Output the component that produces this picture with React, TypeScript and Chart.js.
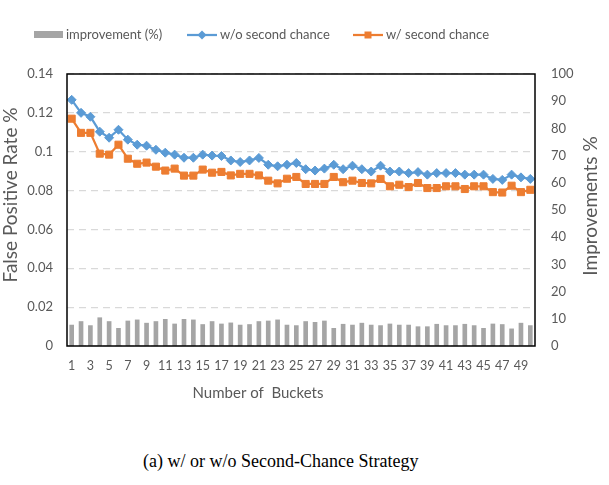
import React, { useEffect, useRef } from 'react';
import { Chart, registerables } from 'chart.js';

Chart.register(...registerables);

// Number of buckets (category axis)
const buckets = [
  1, 2, 3, 4, 5, 6, 7, 8, 9, 10, 11, 12, 13, 14, 15, 16, 17, 18, 19, 20, 21, 22, 23, 24, 25,
  26, 27, 28, 29, 30, 31, 32, 33, 34, 35, 36, 37, 38, 39, 40, 41, 42, 43, 44, 45, 46, 47, 48, 49, 50,
];

// False positive rate without the second-chance strategy
const fprWithout = [
  0.1267, 0.12, 0.118, 0.1103, 0.1072, 0.1113, 0.1062, 0.1036, 0.1031, 0.101,
  0.0995, 0.0985, 0.0969, 0.0969, 0.0985, 0.098, 0.0978, 0.0955, 0.0947, 0.0955,
  0.0968, 0.0933, 0.0925, 0.0933, 0.0942, 0.091, 0.0903, 0.0913, 0.0933, 0.091,
  0.0928, 0.091, 0.0898, 0.0928, 0.0898, 0.0898, 0.089, 0.0895, 0.0882, 0.089,
  0.089, 0.089, 0.0882, 0.0882, 0.0882, 0.086, 0.0855, 0.0882, 0.0868, 0.086,
];

// False positive rate with the second-chance strategy
const fprWith = [
  0.117, 0.1097, 0.1097, 0.099, 0.0985, 0.1036, 0.0964, 0.0938, 0.0944, 0.0923,
  0.0903, 0.0913, 0.0877, 0.0877, 0.0908, 0.0892, 0.0896, 0.0878, 0.0886, 0.0886,
  0.0878, 0.0851, 0.0837, 0.0861, 0.087, 0.0834, 0.0834, 0.0834, 0.087, 0.0843,
  0.0851, 0.0839, 0.0837, 0.086, 0.0822, 0.083, 0.0818, 0.0839, 0.0813, 0.0813,
  0.0822, 0.0822, 0.0808, 0.0822, 0.0822, 0.0792, 0.079, 0.0825, 0.0792, 0.0804,
];

// Relative improvement in percent
const improvement = [
  7.7, 9.0, 7.5, 10.4, 9.0, 6.5, 9.2, 9.6, 8.4, 9.0,
  9.8, 8.1, 9.8, 9.6, 7.9, 9.0, 8.1, 8.5, 7.7, 7.9,
  9.0, 9.2, 9.6, 7.7, 7.5, 9.0, 8.7, 9.2, 6.5, 8.0,
  7.7, 8.4, 7.7, 7.5, 8.1, 7.7, 7.7, 7.1, 7.1, 8.0,
  7.5, 7.5, 8.0, 7.5, 6.5, 8.1, 7.9, 6.3, 8.4, 7.5,
];

const seriesNames = ['improvement (%)', 'w/o second chance', 'w/ second chance'];
const axisTitles = { x: 'Number of  Buckets', y: 'False Positive Rate %', y1: 'Improvements %' };
const caption = '(a) w/ or w/o Second-Chance Strategy';

const FONT = 'Lato, "Open Sans", sans-serif';
const TEXT = '#595959';
const BLUE = '#5b9bd5';
const ORANGE = '#ed7d31';
const GREY = '#a5a5a5';

const decorPlugin = {
  id: 'decor',
  afterDatasetsDraw(chart: any) {
    const { ctx, chartArea: a } = chart;
    ctx.save();
    ctx.strokeStyle = '#000';
    ctx.lineWidth = 1.5;
    ctx.strokeRect(a.left, a.top, a.right - a.left, a.bottom - a.top);
    ctx.restore();
  },
  afterDraw(chart: any) {
    const { ctx } = chart;
    const ds = chart.data.datasets;
    ctx.save();
    ctx.fillStyle = TEXT;
    ctx.font = `13px ${FONT}`;
    ctx.textBaseline = 'middle';
    ctx.textAlign = 'left';
    const ly = 35;

    // bar legend swatch
    ctx.fillStyle = GREY;
    ctx.fillRect(34, ly - 4, 29, 7);
    ctx.fillStyle = TEXT;
    ctx.fillText(ds[0].label, 66, ly);

    // line legend entries
    const drawLineItem = (x: number, color: string, marker: 'diamond' | 'square', label: string) => {
      ctx.strokeStyle = color;
      ctx.lineWidth = 2.25;
      ctx.beginPath();
      ctx.moveTo(x, ly);
      ctx.lineTo(x + 30, ly);
      ctx.stroke();
      ctx.fillStyle = color;
      const cx = x + 15;
      ctx.beginPath();
      if (marker === 'diamond') {
        ctx.moveTo(cx, ly - 4.5);
        ctx.lineTo(cx + 4.5, ly);
        ctx.lineTo(cx, ly + 4.5);
        ctx.lineTo(cx - 4.5, ly);
        ctx.closePath();
      } else {
        ctx.rect(cx - 3.5, ly - 3.5, 7, 7);
      }
      ctx.fill();
      ctx.fillStyle = TEXT;
      ctx.fillText(label, x + 33, ly);
    };
    drawLineItem(187, BLUE, 'diamond', ds[1].label);
    drawLineItem(353, ORANGE, 'square', ds[2].label);

    // axis titles
    ctx.fillStyle = TEXT;
    ctx.textAlign = 'center';
    ctx.font = `15px ${FONT}`;
    ctx.fillText(axisTitles.x, 258, 393);

    ctx.font = `19px ${FONT}`;
    ctx.save();
    ctx.translate(11, 195);
    ctx.rotate(-Math.PI / 2);
    ctx.fillText(axisTitles.y, 0, 0);
    ctx.restore();

    ctx.save();
    ctx.translate(591, 206);
    ctx.rotate(-Math.PI / 2);
    ctx.fillText(axisTitles.y1, 0, 0);
    ctx.restore();

    ctx.restore();
  },
};

export default function App() {
  const canvasRef = useRef<HTMLCanvasElement | null>(null);

  useEffect(() => {
    if (!canvasRef.current) return;
    Chart.defaults.font.family = FONT;
    const chart = new Chart(canvasRef.current, {
      type: 'bar',
      data: {
        labels: buckets,
        datasets: [
          {
            type: 'bar',
            label: seriesNames[0],
            data: improvement,
            yAxisID: 'y1',
            backgroundColor: GREY,
            barThickness: 4,
            order: 3,
          },
          {
            type: 'line',
            label: seriesNames[1],
            data: fprWithout,
            yAxisID: 'y',
            borderColor: BLUE,
            backgroundColor: BLUE,
            borderWidth: 2.25,
            pointStyle: 'rectRot',
            pointRadius: 4.5,
            pointBorderWidth: 1,
            tension: 0,
            order: 2,
          },
          {
            type: 'line',
            label: seriesNames[2],
            data: fprWith,
            yAxisID: 'y',
            borderColor: ORANGE,
            backgroundColor: ORANGE,
            borderWidth: 2.25,
            pointStyle: 'rect',
            pointRadius: 5,
            pointBorderWidth: 1,
            tension: 0,
            order: 1,
          },
        ] as any,
      },
      options: {
        responsive: false,
        animation: false,
        layout: { padding: { top: 74, left: 0, right: 0, bottom: 0 } },
        plugins: { legend: { display: false }, tooltip: { enabled: false } },
        scales: {
          x: {
            type: 'category',
            position: 'bottom',
            grid: { display: false, drawTicks: false },
            border: { display: false },
            ticks: {
              autoSkip: false,
              maxRotation: 0,
              minRotation: 0,
              padding: 12,
              color: TEXT,
              font: { size: 12.5, family: FONT },
              callback: (_v: any, i: number) => (i % 2 === 0 ? String(buckets[i]) : ''),
            },
            afterFit: (s: any) => {
              s.height = 84;
            },
          },
          y: {
            position: 'left',
            min: 0,
            max: 0.14,
            grid: { color: '#d9d9d9', lineWidth: 1.25, drawTicks: false },
            border: { display: false, dash: [7, 5] },
            ticks: {
              stepSize: 0.02,
              padding: 14,
              color: TEXT,
              font: { size: 13, family: FONT },
              callback: (v: any) => String(Number(Number(v).toFixed(4))),
            },
            afterFit: (s: any) => {
              s.width = 67;
            },
          },
          y1: {
            position: 'right',
            min: 0,
            max: 100,
            grid: { display: false, drawTicks: false },
            border: { display: false },
            ticks: { stepSize: 10, padding: 16, color: TEXT, font: { size: 13, family: FONT } },
            afterFit: (s: any) => {
              s.width = 74;
            },
          },
        },
      } as any,
      plugins: [decorPlugin],
    });
    return () => chart.destroy();
  }, []);

  return (
    <div style={{ position: 'absolute', left: 0, top: 0, width: 609, height: 485, background: '#fff' }}>
      <canvas ref={canvasRef} width={609} height={430} style={{ display: 'block' }} />
      <div
        style={{
          position: 'absolute',
          left: 143,
          top: 451,
          fontFamily: '"Liberation Serif", "Times New Roman", serif',
          fontSize: 18,
          color: '#000',
          whiteSpace: 'nowrap',
        }}
      >
        {caption}
      </div>
    </div>
  );
}
